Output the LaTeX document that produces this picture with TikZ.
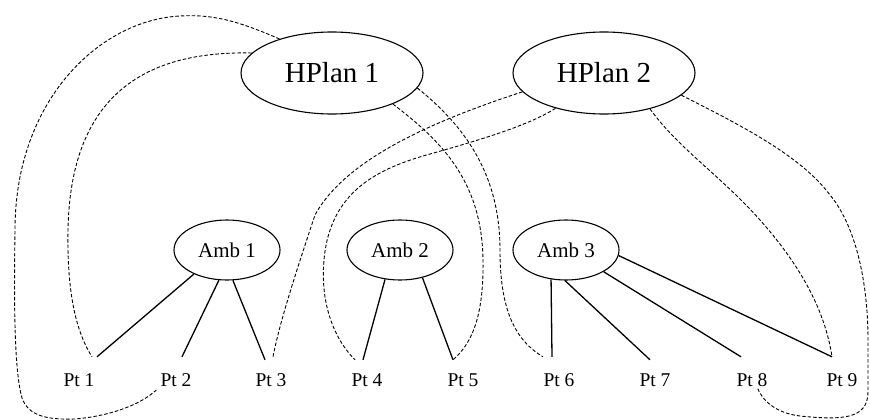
\documentclass[tikz,border=0pt]{standalone}
\usepackage{fontspec}
\setmainfont{Liberation Serif}
\usetikzlibrary{shapes.geometric,calc}
\tikzset{
  plan/.style={draw, line width=1.1pt, ellipse, minimum width=182pt, minimum height=82pt, inner sep=0pt, font=\fontsize{29}{34}\selectfont},
  amb/.style={draw, line width=1.1pt, ellipse, minimum width=106pt, minimum height=60pt, inner sep=0pt, font=\fontsize{21}{25}\selectfont},
  pt/.style={minimum height=46pt, inner sep=2pt, font=\fontsize{19.5}{23}\selectfont},
  solidln/.style={line width=1.3pt},
  dashln/.style={line width=0.9pt, dash pattern=on 3.5pt off 2pt}
}
\begin{document}
\begin{tikzpicture}[x=1pt,y=-1pt]
\useasboundingbox (0,0) rectangle (870,420);
\node[plan] (h1) at (332,73) {HPlan 1};
\node[plan] (h2) at (604,73) {HPlan 2};
\node[amb] (a1) at (227,250) {Amb 1};
\node[amb] (a2) at (400,250) {Amb 2};
\node[amb] (a3) at (566,250) {Amb 3};
\node[pt] (p1) at (79,380) {Pt 1};
\node[pt] (p2) at (176,380) {Pt 2};
\node[pt] (p3) at (271,380) {Pt 3};
\node[pt] (p4) at (367,380) {Pt 4};
\node[pt] (p5) at (463,380) {Pt 5};
\node[pt] (p6) at (559,380) {Pt 6};
\node[pt] (p7) at (655,380) {Pt 7};
\node[pt] (p8) at (752,380) {Pt 8};
\node[pt] (p9) at (842,380) {Pt 9};
% solid lines
\draw[solidln] (a1.216) -- ($(p1.north)+(18,0)$);
\draw[solidln] (a1.255) -- ($(p2.north)+(6,0)$);
\draw[solidln] (a1.281) -- ($(p3.north)+(-6,3)$);
\draw[solidln] (a2.243) -- ($(p4.north)+(-4,3)$);
\draw[solidln] (a2.309) -- ($(p5.north)+(-10,3)$);
\draw[solidln] (a3.243) -- ($(p6.north)+(-7,0)$);
\draw[solidln] (a3.268) -- ($(p7.north)+(-5,3)$);
\draw[solidln] (a3.330) -- ($(p8.north)+(-11,0)$);
\draw[solidln] (a3.354) -- ($(p9.north)+(-10,0)$);
% dashed lines from HPlan 1
\draw[dashln] (h1.147) .. controls (240,22) and (215,14) .. (180,16)
  .. controls (100,20) and (15,100) .. (15,230)
  .. controls (14,300) and (14,370) .. (22,398)
  .. controls (28,415) and (45,420) .. (75,419)
  .. controls (110,416) and (140,405) .. ($(p2.west)+(-2,10)$);
\draw[dashln] (h1.166) .. controls (120,50) and (70,120) .. (68,230)
  .. controls (67,290) and (75,330) .. ($(p1.north)+(13,0)$);
\draw[dashln] (h1.333) .. controls (440,140) and (482,180) .. (483,260)
  .. controls (484,320) and (470,345) .. ($(p5.north)+(-10,3)$);
\draw[dashln] (h1.350) .. controls (470,130) and (500,180) .. (500,250)
  .. controls (500,310) and (515,340) .. ($(p6.north)+(-16,0)$);
% dashed lines from HPlan 2
\draw[dashln] (h2.193) .. controls (430,122) and (345,160) .. (315,215)
  .. controls (300,260) and (280,320) .. ($(p3.north)+(2,0)$);
\draw[dashln] (h2.216) .. controls (530,125) and (480,140) .. (430,154)
  .. controls (380,168) and (330,190) .. (324,260)
  .. controls (320,305) and (335,340) .. ($(p4.north)+(-12,3)$);
\draw[dashln] (h2.322) .. controls (680,150) and (720,175) .. (760,220)
  .. controls (800,265) and (825,310) .. ($(p9.north)+(-10,0)$);
\draw[dashln] (h2.344) .. controls (740,125) and (800,155) .. (830,195)
  .. controls (855,225) and (868,280) .. (868,340)
  -- (868,392)
  .. controls (868,420) and (840,420) .. (800,416)
  .. controls (775,413) and (762,400) .. ($(p8.center)+(5,7)$);
\end{tikzpicture}
\end{document}
